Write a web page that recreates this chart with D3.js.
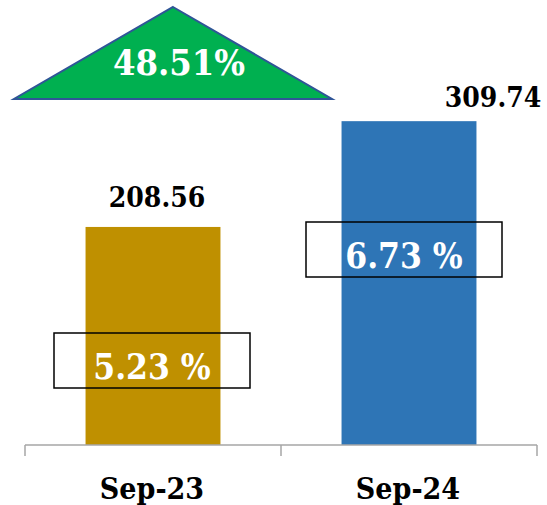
<!DOCTYPE html>
<html>
<head>
<meta charset="utf-8">
<script src="https://cdn.jsdelivr.net/npm/d3@7"></script>
<style>
    body { margin: 0; background: #ffffff; }
    svg text { font-family: "DejaVu Serif Condensed", "DejaVu Serif", Cambria, serif; font-stretch: condensed; font-weight: bold; }
</style>
</head>
<body>
<div id="chart"></div>
<script>
var categories = ['Sep-23', 'Sep-24'],
    values = [208.56, 309.74],
    growthLabels = ['5.23 %', '6.73 %'],
    changeLabel = '48.51%';

var width = 547,
    height = 505,
    baseline = 445,
    left = 25,
    right = 537;

var svg = d3.select('#chart').append('svg')
    .attr('width', width)
    .attr('height', height);

// Band scale: step 256, bar about half of it.
var x = d3.scaleBand()
    .domain(categories)
    .range([left, right])
    .paddingInner(0.473)
    .paddingOuter(0.2365);

var y = d3.scaleLinear()
    .domain([0, 350])
    .range([baseline, baseline - 350 * 1.0455]);

var colors = ['#bf9000', '#2e75b6'];

svg.selectAll('rect.bar')
    .data(values)
    .enter().append('rect')
    .attr('class', 'bar')
    .attr('x', function (d, i) { return x(categories[i]); })
    .attr('y', function (d) { return y(d); })
    .attr('width', x.bandwidth())
    .attr('height', function (d) { return baseline - y(d); })
    .style('fill', function (d, i) { return colors[i]; });

// Axis line with ticks at the category boundaries.
var step = x.step();
svg.append('line')
    .attr('x1', left).attr('x2', right)
    .attr('y1', baseline).attr('y2', baseline)
    .style('stroke', '#a6a6a6').style('stroke-width', 1.5);

svg.selectAll('line.tick')
    .data([0, 1, 2])
    .enter().append('line')
    .attr('class', 'tick')
    .attr('x1', function (d) { return left + d * step; })
    .attr('x2', function (d) { return left + d * step; })
    .attr('y1', baseline).attr('y2', baseline + 11)
    .style('stroke', '#a6a6a6').style('stroke-width', 1.5);

svg.selectAll('text.cat')
    .data(categories)
    .enter().append('text')
    .attr('class', 'cat')
    .attr('x', function (d) { return x(d) + x.bandwidth() / 2 - 1; })
    .attr('y', 499)
    .attr('text-anchor', 'middle')
    .attr('font-size', '30px')
    .attr('fill', '#000000')
    .text(function (d) { return d; });

// Value labels (second one sits off to the right as in the original).
var labelDx = [4, 84],
    labelDy = [-20, -14];
svg.selectAll('text.value')
    .data(values)
    .enter().append('text')
    .attr('class', 'value')
    .attr('x', function (d, i) { return x(categories[i]) + x.bandwidth() / 2 + labelDx[i]; })
    .attr('y', function (d, i) { return y(d) + labelDy[i]; })
    .attr('text-anchor', 'middle')
    .attr('font-size', '28px')
    .attr('fill', '#000000')
    .text(function (d) { return d.toFixed(2); });

// Growth callout boxes.
var boxDx = [-1, -5],
    boxTop = [333, 222],
    boxW = 196,
    boxH = 55;
var boxes = svg.selectAll('g.box')
    .data(growthLabels)
    .enter().append('g')
    .attr('class', 'box')
    .attr('transform', function (d, i) {
        var cx = x(categories[i]) + x.bandwidth() / 2 + boxDx[i];
        return 'translate(' + (cx - boxW / 2) + ',' + boxTop[i] + ')';
    });

boxes.append('rect')
    .attr('width', boxW)
    .attr('height', boxH)
    .style('fill', 'none')
    .style('stroke', '#000000')
    .style('stroke-width', 1.5);

boxes.append('text')
    .attr('x', boxW / 2)
    .attr('y', 46)
    .attr('text-anchor', 'middle')
    .attr('font-size', '35px')
    .attr('fill', '#ffffff')
    .text(function (d) { return d; });

// Green change triangle.
svg.append('path')
    .attr('d', d3.line()([[173, 7], [332, 99], [14, 99]]) + 'Z')
    .style('fill', '#00b050')
    .style('stroke', '#2f5597')
    .style('stroke-width', 2);

svg.append('text')
    .attr('x', 179)
    .attr('y', 75)
    .attr('text-anchor', 'middle')
    .attr('font-size', '36px')
    .attr('fill', '#ffffff')
    .text(changeLabel);
</script>
</body>
</html>
